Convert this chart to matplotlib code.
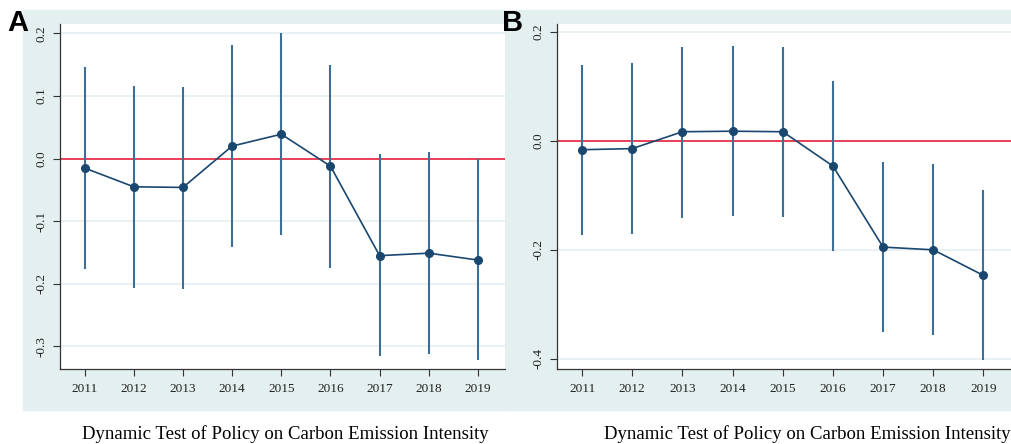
import matplotlib.pyplot as plt
from matplotlib.patches import Rectangle

years = [2011, 2012, 2013, 2014, 2015, 2016, 2017, 2018, 2019]

# panel A: coefficient and 95% CI
coef_a = [-0.015, -0.045, -0.046, 0.020, 0.039, -0.012, -0.155, -0.151, -0.162]
low_a = [-0.177, -0.206, -0.208, -0.141, -0.122, -0.174, -0.316, -0.312, -0.322]
high_a = [0.146, 0.116, 0.115, 0.181, 0.201, 0.149, 0.007, 0.011, 0.000]

# panel B
coef_b = [-0.016, -0.014, 0.017, 0.018, 0.017, -0.046, -0.195, -0.200, -0.247]
low_b = [-0.173, -0.171, -0.141, -0.138, -0.139, -0.202, -0.351, -0.357, -0.403]
high_b = [0.139, 0.143, 0.173, 0.175, 0.173, 0.111, -0.038, -0.043, -0.090]

yticks_a = [-0.3, -0.2, -0.1, 0.0, 0.1, 0.2]
yticks_b = [-0.4, -0.2, 0.0, 0.2]
caption = 'Dynamic Test of Policy on Carbon Emission Intensity'

W, H = 1011, 444
bg = '#e4eff0'
navy = '#1a476f'
ci_col = '#3d6f96'
serif = 'Liberation Serif'

fig = plt.figure(figsize=(W / 100, H / 100), dpi=100)

# light panel backgrounds
for x0, x1 in [(23, 505), (505, 1011)]:
    fig.patches.append(Rectangle((x0 / W, 1 - 410 / H), (x1 - x0) / W, 400 / H,
                                 transform=fig.transFigure, color=bg, zorder=-5))


def panel(rect, coef, low, high, yticks, ylim, letter, lx, capx):
    l, t, r, b = rect
    ax = fig.add_axes([l / W, 1 - b / H, (r - l) / W, (b - t) / H])
    ax.set_facecolor('white')
    for yt in yticks:
        ax.axhline(yt, color='#e6eff2', lw=1.2, zorder=0)
    ax.axhline(0, color='#e8112d', lw=1.1, zorder=1)
    ax.vlines(years, low, high, color=ci_col, lw=1.5, zorder=2)
    ax.plot(years, coef, color=navy, lw=1.2, marker='o', ms=5.5, zorder=3)
    ax.set_xlim(2010.5, years[-1] + 0.55)
    ax.set_ylim(*ylim)
    ax.set_xticks(years)
    ax.set_xticklabels([str(y) for y in years], fontfamily=serif, fontsize=9.5,
                       color='#222222')
    ax.set_yticks(yticks)
    ax.set_yticklabels(['%.1f' % v for v in yticks], fontfamily=serif,
                       fontsize=9.5, rotation=90, va='center', color='#222222')
    ax.spines['top'].set_visible(False)
    ax.spines['right'].set_visible(False)
    for s in ['left', 'bottom']:
        ax.spines[s].set_color('#333333')
        ax.spines[s].set_linewidth(0.9)
    ax.tick_params(axis='x', length=5, width=0.8, color='#333333', pad=5)
    ax.tick_params(axis='y', length=5, width=0.8, color='#333333', pad=4)
    fig.text(lx / W, 1 - 9 / H, letter, fontfamily='Liberation Sans',
             fontweight='bold', fontsize=21, va='top', ha='left')
    fig.text(capx / W, 1 - 434 / H, caption, fontfamily=serif, fontsize=13.5,
             ha='center', va='center')
    return ax


panel((60, 24, 505, 369), coef_a, low_a, high_a, yticks_a, (-0.336, 0.215), 'A', 7, 285)
panel((557, 24, 1011, 369), coef_b, low_b, high_b, yticks_b, (-0.419, 0.215), 'B', 502, 807)

fig.savefig('out.png', dpi=100)
